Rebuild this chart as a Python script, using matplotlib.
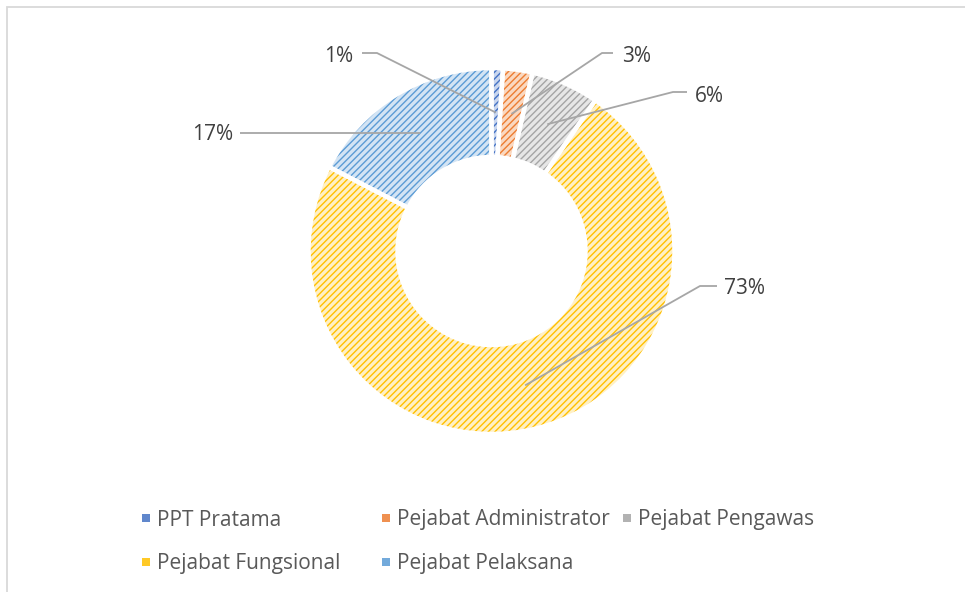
import matplotlib
matplotlib.use("Agg")
import matplotlib.pyplot as plt
from matplotlib.patches import Rectangle
import numpy as np

categories = ["PPT Pratama", "Pejabat Administrator", "Pejabat Pengawas",
              "Pejabat Fungsional", "Pejabat Pelaksana"]
values = [1.0, 2.6, 6.0, 73.0, 17.4]
pct_labels = ["1%", "3%", "6%", "73%", "17%"]
base_colors = ["#4472C4", "#ED7D31", "#A5A5A5", "#FFC000", "#5B9BD5"]
face_colors = ["#C9D6EE", "#FAD8C0", "#E6E6E6", "#FFF0C4", "#D3E4F4"]

plt.rcParams["font.family"] = ["Open Sans", "DejaVu Sans"]
plt.rcParams["hatch.linewidth"] = 1.0

W, H = 965, 592
fig = plt.figure(figsize=(W / 100, H / 100), dpi=100)
ax = fig.add_axes([0, 0, 1, 1])

cx, cy = 491.5, H - 251
R = 183
ring = 89

# hatched fills
wedges, _ = ax.pie(values, radius=R, center=(cx, cy), startangle=90, counterclock=False,
                   colors=face_colors,
                   wedgeprops=dict(width=ring, linewidth=0))
for w, bc in zip(wedges, base_colors):
    w.set_hatch("/////")
    w.set_edgecolor(bc)
    w.set_linewidth(0)
# white separators
ax.pie(values, radius=R, center=(cx, cy), startangle=90, counterclock=False,
       colors=["none"] * len(values),
       wedgeprops=dict(width=ring, linewidth=3.2, edgecolor="white", fill=False))

ax.set_xlim(0, W)
ax.set_ylim(0, H)
ax.axis("off")

# leader lines & labels (text anchor positions in pixel coords from top-left)
label_pos = [(353, 57, "right"), (622, 57, "left"), (695, 97, "left"),
             (724, 288, "left"), (233, 135, "right")]
elbow = [(377, 53), (602, 53), (673, 92), (700, 286), None]
lead_start = [(362, 53), (613, 53), (687, 92), (717, 286), (240, 133)]

total = sum(values)
cum = 0.0
rmid = R - ring / 2
for i, v in enumerate(values):
    mid = 90 - (cum + v / 2) / total * 360
    cum += v
    ex = cx + rmid * np.cos(np.radians(mid))
    ey = cy + rmid * np.sin(np.radians(mid))
    sx, sy = lead_start[i]
    xs = [sx]
    ys = [H - sy]
    if elbow[i] is not None:
        xs.append(elbow[i][0])
        ys.append(H - elbow[i][1])
    else:
        ey = H - sy
    xs.append(ex)
    ys.append(ey)
    ax.plot(xs, ys, color="#A6A6A6", lw=1.3, solid_capstyle="butt")
    tx, ty, ha = label_pos[i]
    ax.text(tx, H - ty, pct_labels[i], ha=ha, va="center", fontsize=15, color="#404040")

# legend
col_x = [146, 386, 627]
row_y = [518, 562]
for i, (cat, bc) in enumerate(zip(categories, base_colors)):
    r, c = divmod(i, 3)
    mx, my = col_x[c], H - row_y[r]
    ax.add_patch(Rectangle((mx - 4, my - 4), 8, 8, facecolor=bc, edgecolor="none", alpha=0.85))
    ax.text(mx + 11, my - 2, cat, ha="left", va="center", fontsize=15, color="#595959")

# chart frame (top and left visible)
ax.add_patch(Rectangle((7, -20), 1000, H - 7 + 20, fill=False, edgecolor="#D9D9D9", lw=1.3))

fig.savefig("out.png", dpi=100)
